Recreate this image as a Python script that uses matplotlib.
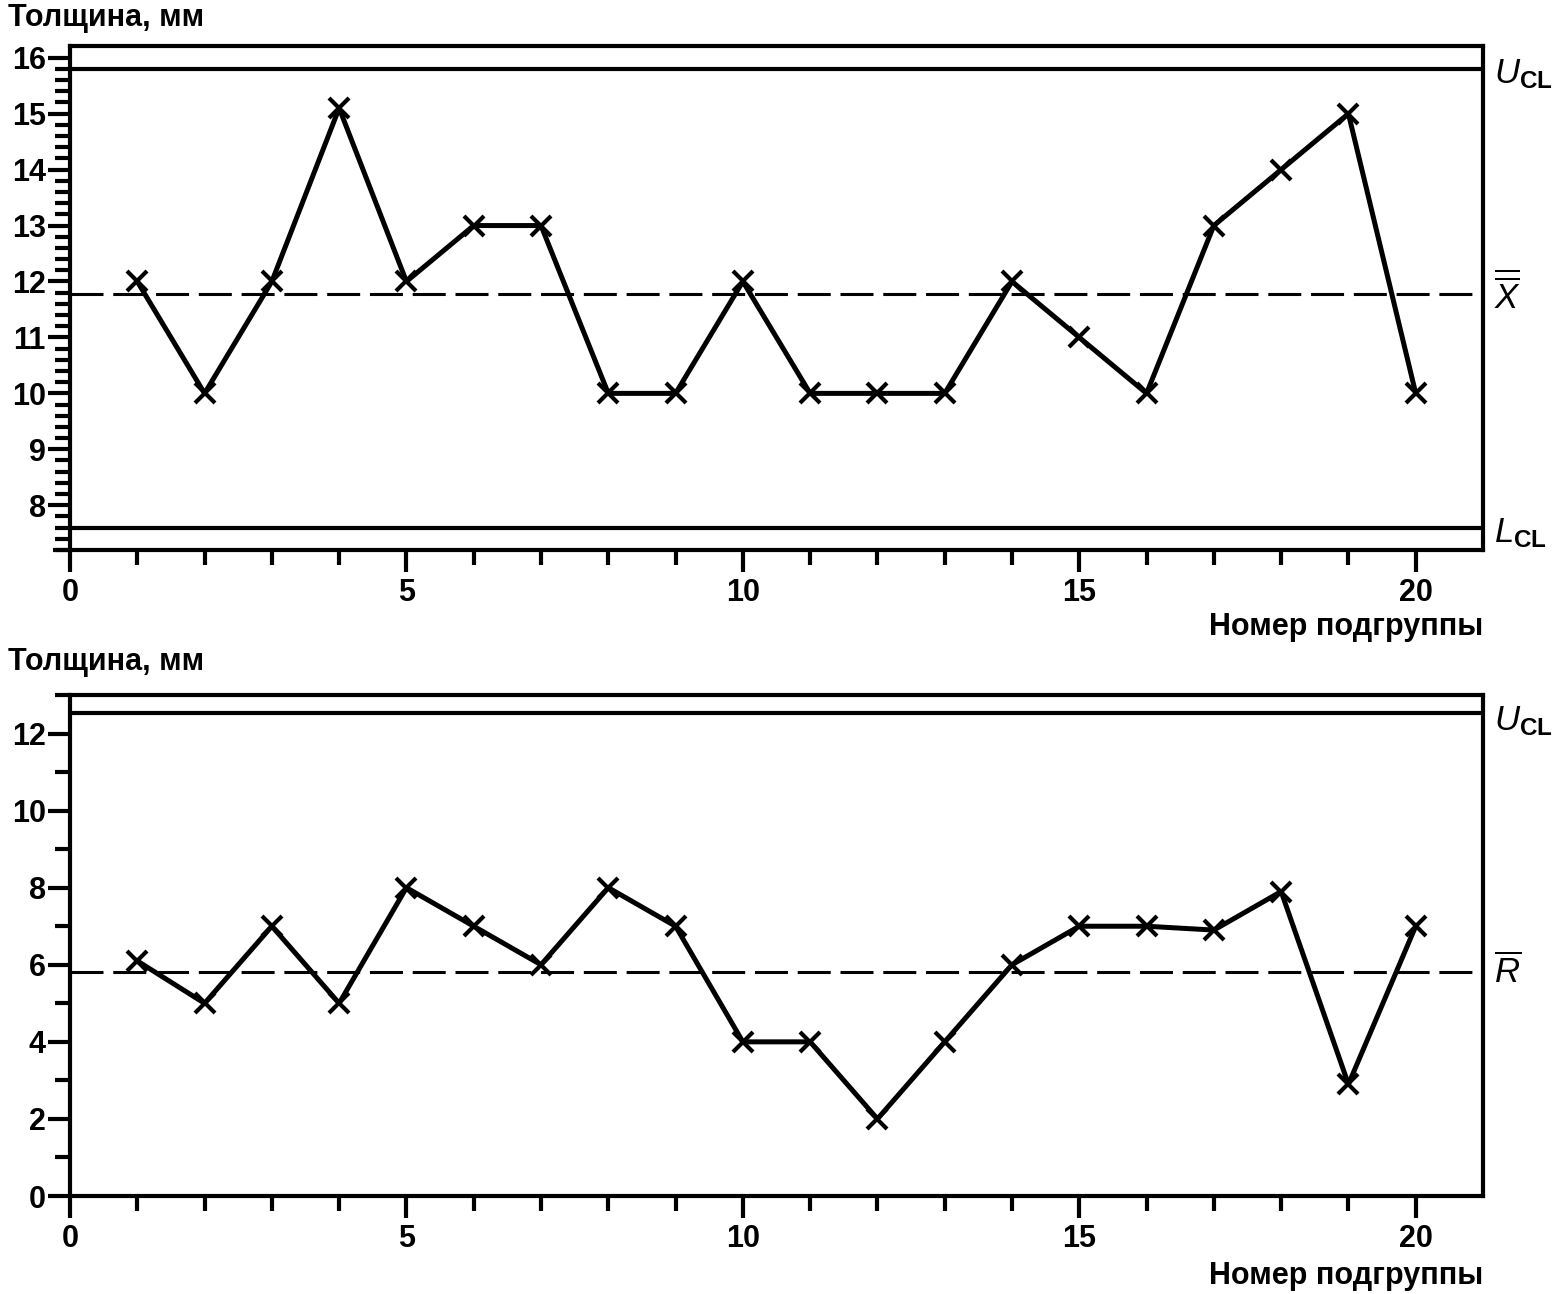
import numpy as np
import matplotlib
matplotlib.use("Agg")
import matplotlib.pyplot as plt
from matplotlib.ticker import FixedLocator
from matplotlib.lines import Line2D

plt.rcParams['font.family'] = ['Liberation Sans', 'DejaVu Sans']
plt.rcParams['font.weight'] = 'bold'
plt.rcParams['mathtext.fontset'] = 'custom'
plt.rcParams['mathtext.rm'] = 'Liberation Sans:bold'
plt.rcParams['mathtext.it'] = 'Liberation Sans:style=italic:weight=normal'
plt.rcParams['mathtext.bf'] = 'Liberation Sans:bold'

# subgroup numbers
subgroups = list(range(1, 21))

# X-bar chart (mean thickness of each subgroup)
xbar = [12, 10, 12, 15.1, 12, 13, 13, 10, 10, 12, 10, 10, 10, 12, 11, 10, 13, 14, 15, 10]
xbar_ucl = 15.8
xbar_center = 11.77
xbar_lcl = 7.6

# R chart (range of each subgroup)
rng = [6.1, 5, 7, 5, 8, 7, 6, 8, 7, 4, 4, 2, 4, 6, 7, 7, 6.9, 7.9, 2.9, 7]
r_ucl = 12.52
r_center = 5.82

ylabel = "Толщина, мм"
xlabel = "Номер подгруппы"

W, H = 1556, 1294
fig = plt.figure(figsize=(W / 100, H / 100), dpi=100)

def px_axes(left, top, right, bottom):
    return fig.add_axes([left / W, 1 - bottom / H, (right - left) / W, (bottom - top) / H])

ax1 = px_axes(70, 46, 1483, 550)
ax2 = px_axes(70, 695, 1483, 1196)

FS = 22
LW = 3.0

def style(ax, ylim, ymajor, yminor):
    ax.set_xlim(0, 21)
    ax.set_ylim(*ylim)
    for s in ax.spines.values():
        s.set_linewidth(LW)
    ax.xaxis.set_major_locator(FixedLocator([0, 5, 10, 15, 20]))
    ax.xaxis.set_minor_locator(FixedLocator(range(1, 21)))
    ax.yaxis.set_major_locator(FixedLocator(ymajor))
    ax.yaxis.set_minor_locator(FixedLocator(yminor))
    ax.tick_params(which='major', length=16, width=LW, labelsize=FS, direction='out')
    ax.tick_params(which='minor', length=10.5, width=LW, direction='out')
    ax.tick_params(axis='x', which='major', pad=4)
    ax.tick_params(axis='y', which='major', pad=1.5)
    ax.tick_params(right=False, top=False, which='both')

def control_lines(ax, levels, center):
    for lv in levels:
        ax.axhline(lv, color='black', lw=LW, zorder=2)
    ax.axhline(center, color='black', lw=2.2, dashes=(10.8, 3.2), zorder=2)

# --- top: X-bar chart
style(ax1, (7.2, 16.21), list(range(8, 17)),
      [v for v in np.round(np.arange(7.2, 16.01, 0.2), 1) if v % 1 != 0])
control_lines(ax1, [xbar_ucl, xbar_lcl], xbar_center)
ax1.plot(subgroups, xbar, color='black', lw=3.6, marker='x', ms=15, mew=3.0, zorder=3)
tr = ax1.get_yaxis_transform()
ax1.text(1.008, xbar_ucl - 0.1, r'$U_{\mathrm{CL}}$', transform=tr, fontsize=FS + 3, va='center')
ax1.text(1.008, xbar_center, r'$\overline{\overline{X}}$', transform=tr, fontsize=FS + 3, va='center')
ax1.text(1.008, xbar_lcl - 0.1, r'$L_{\mathrm{CL}}$', transform=tr, fontsize=FS + 3, va='center')
ax1.add_line(Line2D([-17 / 1413, 0], [0, 0], transform=ax1.transAxes, color='black',
                    lw=LW, clip_on=False, solid_capstyle='butt'))

# --- bottom: R chart
style(ax2, (0, 13), list(range(0, 13, 2)), list(range(1, 14, 2)))
control_lines(ax2, [r_ucl], r_center)
ax2.plot(subgroups, rng, color='black', lw=3.6, marker='x', ms=15, mew=3.0, zorder=3)
tr = ax2.get_yaxis_transform()
ax2.text(1.008, r_ucl - 0.2, r'$U_{\mathrm{CL}}$', transform=tr, fontsize=FS + 3, va='center')
ax2.text(1.008, r_center, r'$\overline{R}$', transform=tr, fontsize=FS + 3, va='center')

for ax, ytop, ybot in [(ax1, 18, 627), (ax2, 662, 1276)]:
    fig.text(8 / W, 1 - ytop / H, ylabel, fontsize=FS, va='center', ha='left')
    fig.text(1483 / W, 1 - ybot / H, xlabel, fontsize=FS, va='center', ha='right')

fig.savefig("out.png", dpi=100)
